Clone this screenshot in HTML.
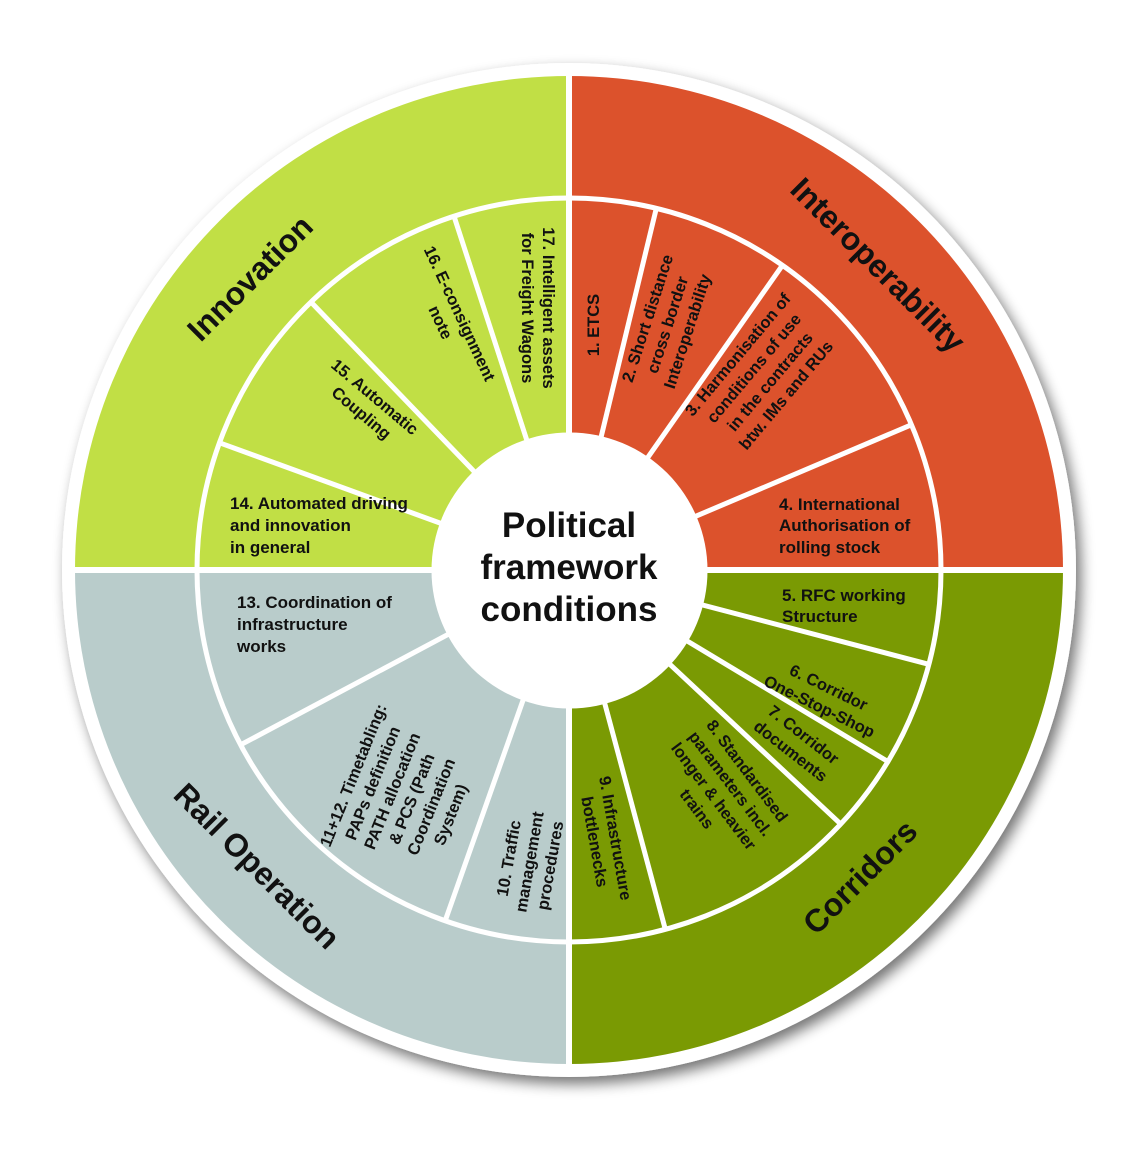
<!DOCTYPE html>
<html><head><meta charset="utf-8"><style>
html,body{margin:0;padding:0;background:#fff;}
svg{display:block;}
text{font-family:"Liberation Sans",Arial,sans-serif;font-weight:bold;fill:#111;}
.s{font-size:17px;}
.r{font-size:16.5px;}
.b{font-size:32px;}
</style></head><body>
<svg width="1140" height="1158" viewBox="0 0 1140 1158" xmlns="http://www.w3.org/2000/svg">
<defs>
<filter id="sh" x="-10%" y="-10%" width="120%" height="120%">
<feGaussianBlur in="SourceAlpha" stdDeviation="7"/>
<feOffset dx="5" dy="7"/>
<feComponentTransfer><feFuncA type="linear" slope="0.55"/></feComponentTransfer>
<feMerge><feMergeNode/><feMergeNode in="SourceGraphic"/></feMerge>
</filter>
</defs>
<circle cx="569" cy="570" r="507" fill="#fff" filter="url(#sh)"/>
<path d="M569,570 L569,76 A494,494 0 0 1 1063,570 Z" fill="#DC522C"/>
<path d="M569,570 L1063,570 A494,494 0 0 1 569,1064 Z" fill="#7A9A03"/>
<path d="M569,570 L569,1064 A494,494 0 0 1 75,570 Z" fill="#B9CCCB"/>
<path d="M569,570 L75,570 A494,494 0 0 1 569,76 Z" fill="#C1DF45"/>
<circle cx="569" cy="570" r="372" fill="none" stroke="#fff" stroke-width="5"/>
<line x1="569" y1="70" x2="569" y2="1070" stroke="#fff" stroke-width="6"/>
<line x1="69" y1="570" x2="1069" y2="570" stroke="#fff" stroke-width="6"/>
<g stroke="#fff" stroke-width="5">
<line x1="569" y1="570" x2="656.3" y2="208.4"/>
<line x1="569" y1="570" x2="782.4" y2="265.3"/>
<line x1="569" y1="570" x2="911.9" y2="424.6"/>
<line x1="569" y1="570" x2="928.8" y2="664.3"/>
<line x1="569" y1="570" x2="888.0" y2="761.6"/>
<line x1="569" y1="570" x2="840.3" y2="823.7"/>
<line x1="569" y1="570" x2="665.3" y2="929.3"/>
<line x1="569" y1="570" x2="445.1" y2="921.0"/>
<line x1="569" y1="570" x2="241.1" y2="744.6"/>
<line x1="569" y1="570" x2="219.6" y2="442.8"/>
<line x1="569" y1="570" x2="311.3" y2="302.4"/>
<line x1="569" y1="570" x2="454.0" y2="216.2"/>
</g>
<circle cx="569.5" cy="570.5" r="138" fill="#fff"/>
<text text-anchor="middle" font-size="35" x="569" y="537">Political</text>
<text text-anchor="middle" font-size="35" x="569" y="579">framework</text>
<text text-anchor="middle" font-size="35" x="569" y="621">conditions</text>

<text class="b" text-anchor="middle" transform="translate(878,265) rotate(45)" y="11">Interoperability</text>
<text class="b" text-anchor="middle" transform="translate(250,278) rotate(-45)" y="11">Innovation</text>
<text class="b" text-anchor="middle" transform="translate(257,866) rotate(45)" y="11">Rail Operation</text>
<text class="b" text-anchor="middle" transform="translate(860,877) rotate(-45)" y="11">Corridors</text>

<g class="r" text-anchor="middle">
<text transform="translate(593,325) rotate(-90)" y="6">1. ETCS</text>
<text transform="translate(668,325) rotate(-72)"><tspan x="0" y="-16">2. Short distance</tspan><tspan x="0" y="5">cross border</tspan><tspan x="0" y="26">Interoperability</tspan></text>
<text transform="translate(762,375) rotate(-50)"><tspan x="0" y="-26">3. Harmonisation of</tspan><tspan x="0" y="-5">conditions of use</tspan><tspan x="0" y="16">in the contracts</tspan><tspan x="0" y="37">btw. IMs and RUs</tspan></text>
<text transform="translate(824,697) rotate(26)"><tspan x="0" y="-5">6. Corridor</tspan><tspan x="0" y="16">One-Stop-Shop</tspan></text>
<text transform="translate(797,743) rotate(38)"><tspan x="0" y="-5">7. Corridor</tspan><tspan x="0" y="16">documents</tspan></text>
<text transform="translate(722,790) rotate(53)"><tspan x="0" y="-26">8. Standardised</tspan><tspan x="0" y="-5">parameters incl.</tspan><tspan x="0" y="16">longer &amp; heavier</tspan><tspan x="0" y="37">trains</tspan></text>
<text transform="translate(605,840) rotate(80)"><tspan x="0" y="-5">9. Infrastructure</tspan><tspan x="0" y="16">bottlenecks</tspan></text>
<text transform="translate(530,862) rotate(-80)"><tspan x="0" y="-16">10. Traffic</tspan><tspan x="0" y="5">management</tspan><tspan x="0" y="26">procedures</tspan></text>
<text transform="translate(402,795) rotate(-68)"><tspan x="0" y="-47">11+12. Timetabling:</tspan><tspan x="0" y="-26">PAPs definition</tspan><tspan x="0" y="-5">PATH allocation</tspan><tspan x="0" y="16">&amp; PCS (Path</tspan><tspan x="0" y="37">Coordination</tspan><tspan x="0" y="58">System)</tspan></text>
<text transform="translate(368,405) rotate(40)"><tspan x="0" y="-5">15. Automatic</tspan><tspan x="0" y="16">Coupling</tspan></text>
<text transform="translate(450,318) rotate(65)"><tspan x="0" y="-5">16. E-consignment</tspan><tspan x="0" y="16">note</tspan></text>
<text transform="translate(538,308) rotate(90)"><tspan x="0" y="-5">17. Intelligent assets</tspan><tspan x="0" y="16">for Freight Wagons</tspan></text>
</g>
<g class="s">
<text x="779" y="510">4. International</text>
<text x="779" y="531">Authorisation of</text>
<text x="779" y="553">rolling stock</text>
<text x="782" y="601">5. RFC working</text>
<text x="782" y="622">Structure</text>
<text x="237" y="608">13. Coordination of</text>
<text x="237" y="630">infrastructure</text>
<text x="237" y="652">works</text>
<text x="230" y="509">14. Automated driving</text>
<text x="230" y="531">and innovation</text>
<text x="230" y="553">in general</text>
</g>
</svg>
</body></html>
